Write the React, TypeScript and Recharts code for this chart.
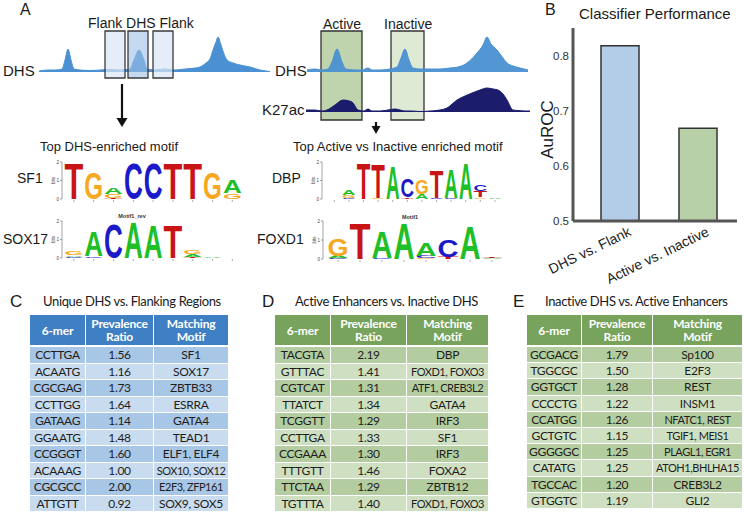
import React from "react";
import {
  AreaChart,
  Area,
  BarChart,
  Bar,
  XAxis,
  YAxis,
  ReferenceArea,
  Label,
} from "recharts";

// ---- panel B: classifier performance ----
const perfNames = ["DHS vs. Flank", "Active vs. Inactive"];
const perfAuroc = [0.818, 0.668];
const perfColors = ["#b3cde9", "#b8d0a8"];
const aurocTicks = [0.5, 0.6, 0.7, 0.8];

// ---- panel A: coverage tracks (position, signal) ----
const leftPos = [39, 48, 56, 62, 65, 68, 71, 74, 80, 90, 100, 110, 120, 130, 134, 139, 144, 147, 155, 165, 175, 185, 195, 200, 206, 210, 213, 216, 218, 221, 224, 227, 233, 240, 250, 260, 266, 270];
const leftDhs = [1, 2, 2, 3, 12, 23, 12, 3, 2, 1.5, 2, 2.5, 2, 3, 12, 22, 12, 3, 2, 3, 2, 3, 4, 5, 9, 13, 22, 30, 35, 27, 18, 12, 9, 7, 5, 2, 1, 0.5];

const rightPos = [307, 315, 322, 328, 332, 337, 342, 346, 355, 362, 368, 372, 380, 390, 397, 401, 405, 409, 413, 420, 430, 440, 450, 458, 467, 477, 483, 487, 491, 497, 503, 507, 513, 520, 528];
const rightDhs = [2, 3, 2, 3, 10, 23, 10, 3, 2, 2, 4, 2, 2, 3, 5, 14, 23, 12, 4, 3, 3, 3, 4, 5, 9, 19, 27, 35, 28, 22, 14, 9, 6, 4, 2];
const k27Pos = [306, 315, 322, 327, 335, 343, 352, 358, 364, 368, 372, 380, 388, 395, 400, 405, 412, 420, 430, 440, 447, 457, 465, 472, 480, 487, 493, 498, 503, 507, 513, 518, 525, 530];
const k27ac = [2, 2, 1, 2, 7, 12, 10, 2, 1, 3, 1, 1, 2, 3, 2, 1, 1, 0.5, 1, 2, 4, 12, 16, 19, 22, 24, 23, 22, 18, 12, 2, 1.5, 1, 1];

// ---- sequence logos: columns stacked bottom -> top as [base, bits] ----
const sf1Cols = [[["T", 1.95]], [["G", 1.45]], [["T", 0.05], ["G", 0.2], ["A", 0.35]], [["C", 1.95]], [["C", 1.95]], [["T", 1.95]], [["T", 1.95]], [["G", 1.45]], [["G", 0.3], ["A", 0.75]]];
const sox17Cols = [[["C", 0.08], ["A", 0.1], ["G", 0.22]], [["C", 0.1], ["A", 1.4]], [["C", 1.9]], [["A", 2.0]], [["A", 1.8]], [["T", 1.8]], [["T", 0.05], ["A", 0.15], ["G", 0.2]], [["A", 0.05]], []];
const dbpCols = [[], [["C", 0.08], ["G", 0.12], ["A", 0.3]], [["T", 1.95]], [["G", 0.05], ["T", 1.9]], [["A", 1.85]], [["T", 0.1], ["C", 1.05]], [["A", 0.25], ["G", 0.8]], [["C", 0.05], ["T", 1.5]], [["C", 0.05], ["A", 1.6]], [["A", 1.95]], [["G", 0.1], ["T", 0.35], ["C", 0.35]], [["A", 0.05]]];
const foxd1Cols = [[["C", 0.05], ["A", 0.1], ["G", 0.95]], [["T", 1.95]], [["C", 0.05], ["A", 1.45]], [["A", 1.95]], [["G", 0.05], ["C", 0.1], ["A", 0.7]], [["T", 0.1], ["C", 0.95]], [["A", 1.8]], [["A", 0.05], ["T", 0.05]]];
const baseColors: Record<string, string> = { A: "#1fbf2a", C: "#1a1ac8", G: "#f7a823", T: "#c81414" };

// ---- tables ----
const tableHead = ["6-mer", "Prevalence\nRatio", "Matching\nMotif"];
const cMers = ["CCTTGA", "ACAATG", "CGCGAG", "CCTTGG", "GATAAG", "GGAATG", "CCGGGT", "ACAAAG", "CGCGCC", "ATTGTT"];
const cRatios = ["1.56", "1.16", "1.73", "1.64", "1.14", "1.48", "1.60", "1.00", "2.00", "0.92"];
const cMotifs = ["SF1", "SOX17", "ZBTB33", "ESRRA", "GATA4", "TEAD1", "ELF1, ELF4", "SOX10, SOX12", "E2F3, ZFP161", "SOX9, SOX5"];
const dMers = ["TACGTA", "GTTTAC", "CGTCAT", "TTATCT", "TCGGTT", "CCTTGA", "CCGAAA", "TTTGTT", "TTCTAA", "TGTTTA"];
const dRatios = ["2.19", "1.41", "1.31", "1.34", "1.29", "1.33", "1.30", "1.46", "1.29", "1.40"];
const dMotifs = ["DBP", "FOXD1, FOXO3", "ATF1, CREB3L2", "GATA4", "IRF3", "SF1", "IRF3", "FOXA2", "ZBTB12", "FOXD1, FOXO3"];
const eMers = ["GCGACG", "TGGCGC", "GGTGCT", "CCCCTG", "CCATGG", "GCTGTC", "GGGGGC", "CATATG", "TGCCAC", "GTGGTC"];
const eRatios = ["1.79", "1.50", "1.28", "1.22", "1.26", "1.15", "1.25", "1.25", "1.20", "1.19"];
const eMotifs = ["Sp100", "E2F3", "REST", "INSM1", "NFATC1, REST", "TGIF1, MEIS1", "PLAGL1, EGR1", "ATOH1,BHLHA15", "CREB3L2", "GLI2"];

const ARIAL = "'Liberation Sans', Arial, sans-serif";
const CAL = "Lato, 'Open Sans', sans-serif";
const DHS_BLUE = "#4a90d2";
const NAVY = "#1b1d6c";

function Logo({ x0, top, base, colW, cols, axisX }: any) {
  const perBit = (base - top) / 2;
  return (
    <g>
      <line x1={axisX} y1={top} x2={axisX} y2={base} stroke="#666" strokeWidth={0.6} />
      {[0, 1, 2].map((b) => (
        <g key={b}>
          <line x1={axisX - 2} x2={axisX} y1={base - b * perBit} y2={base - b * perBit} stroke="#666" strokeWidth={0.6} />
          <text x={axisX - 3} y={base - b * perBit + 1.5} fontSize={4.5} textAnchor="end" fill="#444" fontFamily={ARIAL}>
            {b}
          </text>
        </g>
      ))}
      <text transform={`translate(${axisX - 7},${top + perBit}) rotate(-90)`} fontSize={4.5} textAnchor="middle" fill="#444" fontFamily={ARIAL}>
        bits
      </text>
      {cols.map((col: any[], i: number) => {
        let y = base;
        const xs = x0 + i * colW;
        return (
          <g key={i}>
            <line x1={xs + colW / 2} x2={xs + colW / 2} y1={base + 1} y2={base + 3} stroke="#777" strokeWidth={0.6} />
            {col.map(([letter, bits]: [string, number], j: number) => {
              const h = bits * perBit;
              const yb = y;
              y -= h;
              return (
                <text
                  key={j}
                  transform={`translate(${xs + 0.5},${yb}) scale(${(colW - 1) / 70},${h / 72.9})`}
                  fontSize={100}
                  fontWeight="bold"
                  fontFamily={ARIAL}
                  textLength={70}
                  lengthAdjust="spacingAndGlyphs"
                  fill={baseColors[letter]}
                >
                  {letter}
                </text>
              );
            })}
          </g>
        );
      })}
    </g>
  );
}

function MerTable({ left, top, widths, headColor, band1, band2, mers, ratios, motifs, rowH }: any) {
  const cell = (w: number, extra: any = {}) => ({
    width: w,
    boxSizing: "border-box" as const,
    borderRight: "1.5px solid #fff",
    display: "flex",
    alignItems: "center",
    justifyContent: "center",
    whiteSpace: "nowrap" as const,
    overflow: "hidden",
    ...extra,
  });
  return (
    <div style={{ position: "absolute", left, top, fontFamily: CAL }}>
      <div style={{ display: "flex", height: 30, background: headColor, color: "#fff", fontWeight: "bold", fontSize: 12, letterSpacing: -0.2, lineHeight: "13px", textAlign: "center" }}>
        {tableHead.map((h, i) => (
          <div key={i} style={cell(widths[i], { whiteSpace: "pre" })}>
            {h}
          </div>
        ))}
      </div>
      <div style={{ height: 2 }} />
      {mers.map((m: string, r: number) => (
        <div key={r} style={{ display: "flex", height: rowH - 1, marginBottom: 1, background: r % 2 === 0 ? band1 : band2, color: "#1e1e1e", fontSize: 12, letterSpacing: -0.3 }}>
          <div style={cell(widths[0])}>{m}</div>
          <div style={cell(widths[1])}>{ratios[r]}</div>
          <div style={cell(widths[2], motifs[r].length > 11 ? { fontSize: 11, letterSpacing: -0.45 } : {})}>{motifs[r]}</div>
        </div>
      ))}
    </div>
  );
}

function AngledTick({ x, y, payload }: any) {
  return (
    <text transform={`translate(${x + 12},${y + 6}) rotate(-26)`} textAnchor="end" fontSize={14} fill="#222" fontFamily={ARIAL}>
      {payload.value}
    </text>
  );
}

export default function App() {
  const perfData = perfNames.map((name, i) => ({ name, auroc: perfAuroc[i], fill: perfColors[i] }));
  const leftTrack = leftPos.map((p, i) => ({ p, dhs: leftDhs[i] }));
  const rightTrack = [
    ...rightPos.map((p, i) => ({ p, dhs: rightDhs[i] })),
    ...k27Pos.map((p, i) => ({ p, k27: k27ac[i] })),
  ].sort((a, b) => a.p - b.p);

  const txt = (s: string, x: number, y: number, size: number, extra: any = {}) => (
    <div style={{ position: "absolute", left: x, top: y - size * 0.6, fontSize: size, fontFamily: ARIAL, color: "#1a1a1a", whiteSpace: "nowrap", lineHeight: `${size * 1.2}px`, ...extra }}>
      {s}
    </div>
  );
  const titleStyle = { fontFamily: CAL, letterSpacing: -0.35 };

  return (
    <div style={{ position: "fixed", left: 0, top: 0, width: 744, height: 516, background: "#fff", overflow: "hidden" }}>
      {/* panel A text */}
      {txt("A", 20, 10, 16)}
      {txt("Flank DHS Flank", 88, 23, 14)}
      {txt("DHS", 3, 71, 15)}
      {txt("Active", 323, 24, 14)}
      {txt("Inactive", 384, 24, 14)}
      {txt("DHS", 275, 71, 15)}
      {txt("K27ac", 262, 110, 15)}
      {txt("Top DHS-enriched motif", 40, 147, 13)}
      {txt("Top Active vs Inactive enriched motif", 293, 147, 13)}
      {txt("SF1", 17, 178, 14)}
      {txt("SOX17", 3, 239, 14)}
      {txt("DBP", 272, 178, 14)}
      {txt("FOXD1", 257, 239, 14)}

      {/* left DHS track with flank/DHS windows */}
      <div style={{ position: "absolute", left: 39, top: 28 }}>
        <AreaChart width={233} height={54} data={leftTrack} margin={{ top: 0, right: 0, bottom: 0, left: 0 }}>
          <XAxis dataKey="p" type="number" domain={[39, 272]} hide />
          <YAxis domain={[-10, 44]} hide />
          <Area dataKey="dhs" type="monotone" baseValue={0} stroke={DHS_BLUE} strokeWidth={1} fill={DHS_BLUE} fillOpacity={1} isAnimationActive={false} />
          <ReferenceArea x1={105} x2={125} y1={-6} y2={41} stroke="#3a3a3a" strokeWidth={1.3} fill="#d8e6f5" fillOpacity={0.7} />
          <ReferenceArea x1={128} x2={148} y1={-6} y2={41} stroke="#3a3a3a" strokeWidth={1.3} fill="#9fc2e6" fillOpacity={0.6} />
          <ReferenceArea x1={153} x2={173} y1={-6} y2={41} stroke="#3a3a3a" strokeWidth={1.3} fill="#d8e6f5" fillOpacity={0.7} />
        </AreaChart>
      </div>

      {/* right DHS + K27ac tracks with active/inactive windows */}
      <div style={{ position: "absolute", left: 305, top: 8 }}>
        <AreaChart width={227} height={116} data={rightTrack} margin={{ top: 20, right: 0, bottom: 0, left: 0 }}>
          <XAxis dataKey="p" type="number" domain={[305, 532]} hide />
          <YAxis yAxisId="dhs" domain={[-52, 44]} hide />
          <YAxis yAxisId="k27" domain={[-12, 84]} hide />
          <ReferenceArea yAxisId="dhs" x1={321} x2={362} y1={-48} y2={41} stroke="#333" strokeWidth={1.3} fill="#a9c491" fillOpacity={0.75} />
          <ReferenceArea yAxisId="dhs" x1={391} x2={424} y1={-48} y2={41} stroke="#333" strokeWidth={1.3} fill="#d6e5c9" fillOpacity={0.8} />
          <Area yAxisId="dhs" dataKey="dhs" type="monotone" connectNulls baseValue={0} stroke={DHS_BLUE} strokeWidth={1} fill={DHS_BLUE} fillOpacity={0.95} isAnimationActive={false} />
          <Area yAxisId="k27" dataKey="k27" type="monotone" connectNulls baseValue={0} stroke={NAVY} strokeWidth={1} fill={NAVY} fillOpacity={1} isAnimationActive={false} />
        </AreaChart>
      </div>

      {/* arrows and logos */}
      <svg width={744} height={516} style={{ position: "absolute", left: 0, top: 0, pointerEvents: "none" }}>
        <line x1={122} y1={84} x2={122} y2={119} stroke="#111" strokeWidth={2.2} />
        <polygon points="116.5,118 127.5,118 122,127" fill="#111" />
        <line x1={376} y1={122} x2={376} y2={127} stroke="#111" strokeWidth={2.2} />
        <polygon points="371.5,126 380.5,126 376,134" fill="#111" />
        <Logo x0={64} top={162} base={199} colW={19.8} axisX={62} cols={sf1Cols} />
        <Logo x0={64} top={221} base={258} colW={19.8} axisX={62} cols={sox17Cols} />
        <text x={132} y={218} fontSize={5.5} fontWeight="bold" textAnchor="middle" fill="#333" fontFamily={ARIAL}>Motif1_rev</text>
        <Logo x0={327} top={162} base={199} colW={14.6} axisX={322} cols={dbpCols} />
        <Logo x0={327} top={221} base={259} colW={22} axisX={323} cols={foxd1Cols} />
        <text x={410} y={219} fontSize={5.5} fontWeight="bold" textAnchor="middle" fill="#333" fontFamily={ARIAL}>Motif1</text>
      </svg>

      {/* panel B */}
      {txt("B", 545, 10, 16)}
      {txt("Classifier Performance", 579, 14, 15)}
      <div style={{ position: "absolute", left: 530, top: 0 }}>
        <BarChart width={214} height={290} data={perfData} margin={{ top: 28, right: 7, bottom: 0, left: 0 }}>
          <XAxis
            dataKey="name"
            height={69}
            padding={{ left: 8, right: 0 }}
            axisLine={{ stroke: "#555", strokeWidth: 3 }}
            tickLine={false}
            tick={<AngledTick />}
            interval={0}
          />
          <YAxis
            width={43}
            domain={[0.5, 0.85]}
            ticks={aurocTicks}
            allowDataOverflow
            axisLine={{ stroke: "#555", strokeWidth: 3 }}
            tickLine={false}
            tickSize={0}
            tickMargin={4}
            tick={{ fontSize: 11.5, fill: "#333", fontFamily: ARIAL }}
          >
            <Label
              content={({ viewBox }: any) => (
                <text
                  transform={`translate(${viewBox.x + 19},${viewBox.y + viewBox.height / 2 + 5}) rotate(-90)`}
                  textAnchor="middle"
                  dominantBaseline="middle"
                  fontSize={17}
                  fill="#1a1a1a"
                  fontFamily={ARIAL}
                >
                  AuROC
                </text>
              )}
            />
          </YAxis>
          <Bar dataKey="auroc" barSize={38} stroke="#333" strokeWidth={1.5} isAnimationActive={false} />
        </BarChart>
      </div>

      {/* panels C, D, E */}
      {txt("C", 10, 302, 17)}
      {txt("Unique DHS vs. Flanking Regions", 43, 302, 13, titleStyle)}
      <MerTable left={30} top={315} widths={[56, 68, 75]} headColor="#3f80c4" band1="#a8c6e6" band2="#c8dbef" mers={cMers} ratios={cRatios} motifs={cMotifs} rowH={16.5} />
      {txt("D", 262, 302, 17)}
      {txt("Active Enhancers vs. Inactive DHS", 295, 302, 13, titleStyle)}
      <MerTable left={275} top={315} widths={[56, 76, 82]} headColor="#78a35c" band1="#b4cda0" band2="#cfe0c2" mers={dMers} ratios={dRatios} motifs={dMotifs} rowH={16.5} />
      {txt("E", 513, 302, 17)}
      {txt("Inactive DHS vs. Active Enhancers", 545, 302, 13, titleStyle)}
      <MerTable left={527} top={315} widths={[55, 71, 90]} headColor="#78a35c" band1="#b4cda0" band2="#cfe0c2" mers={eMers} ratios={eRatios} motifs={eMotifs} rowH={16.2} />
    </div>
  );
}
